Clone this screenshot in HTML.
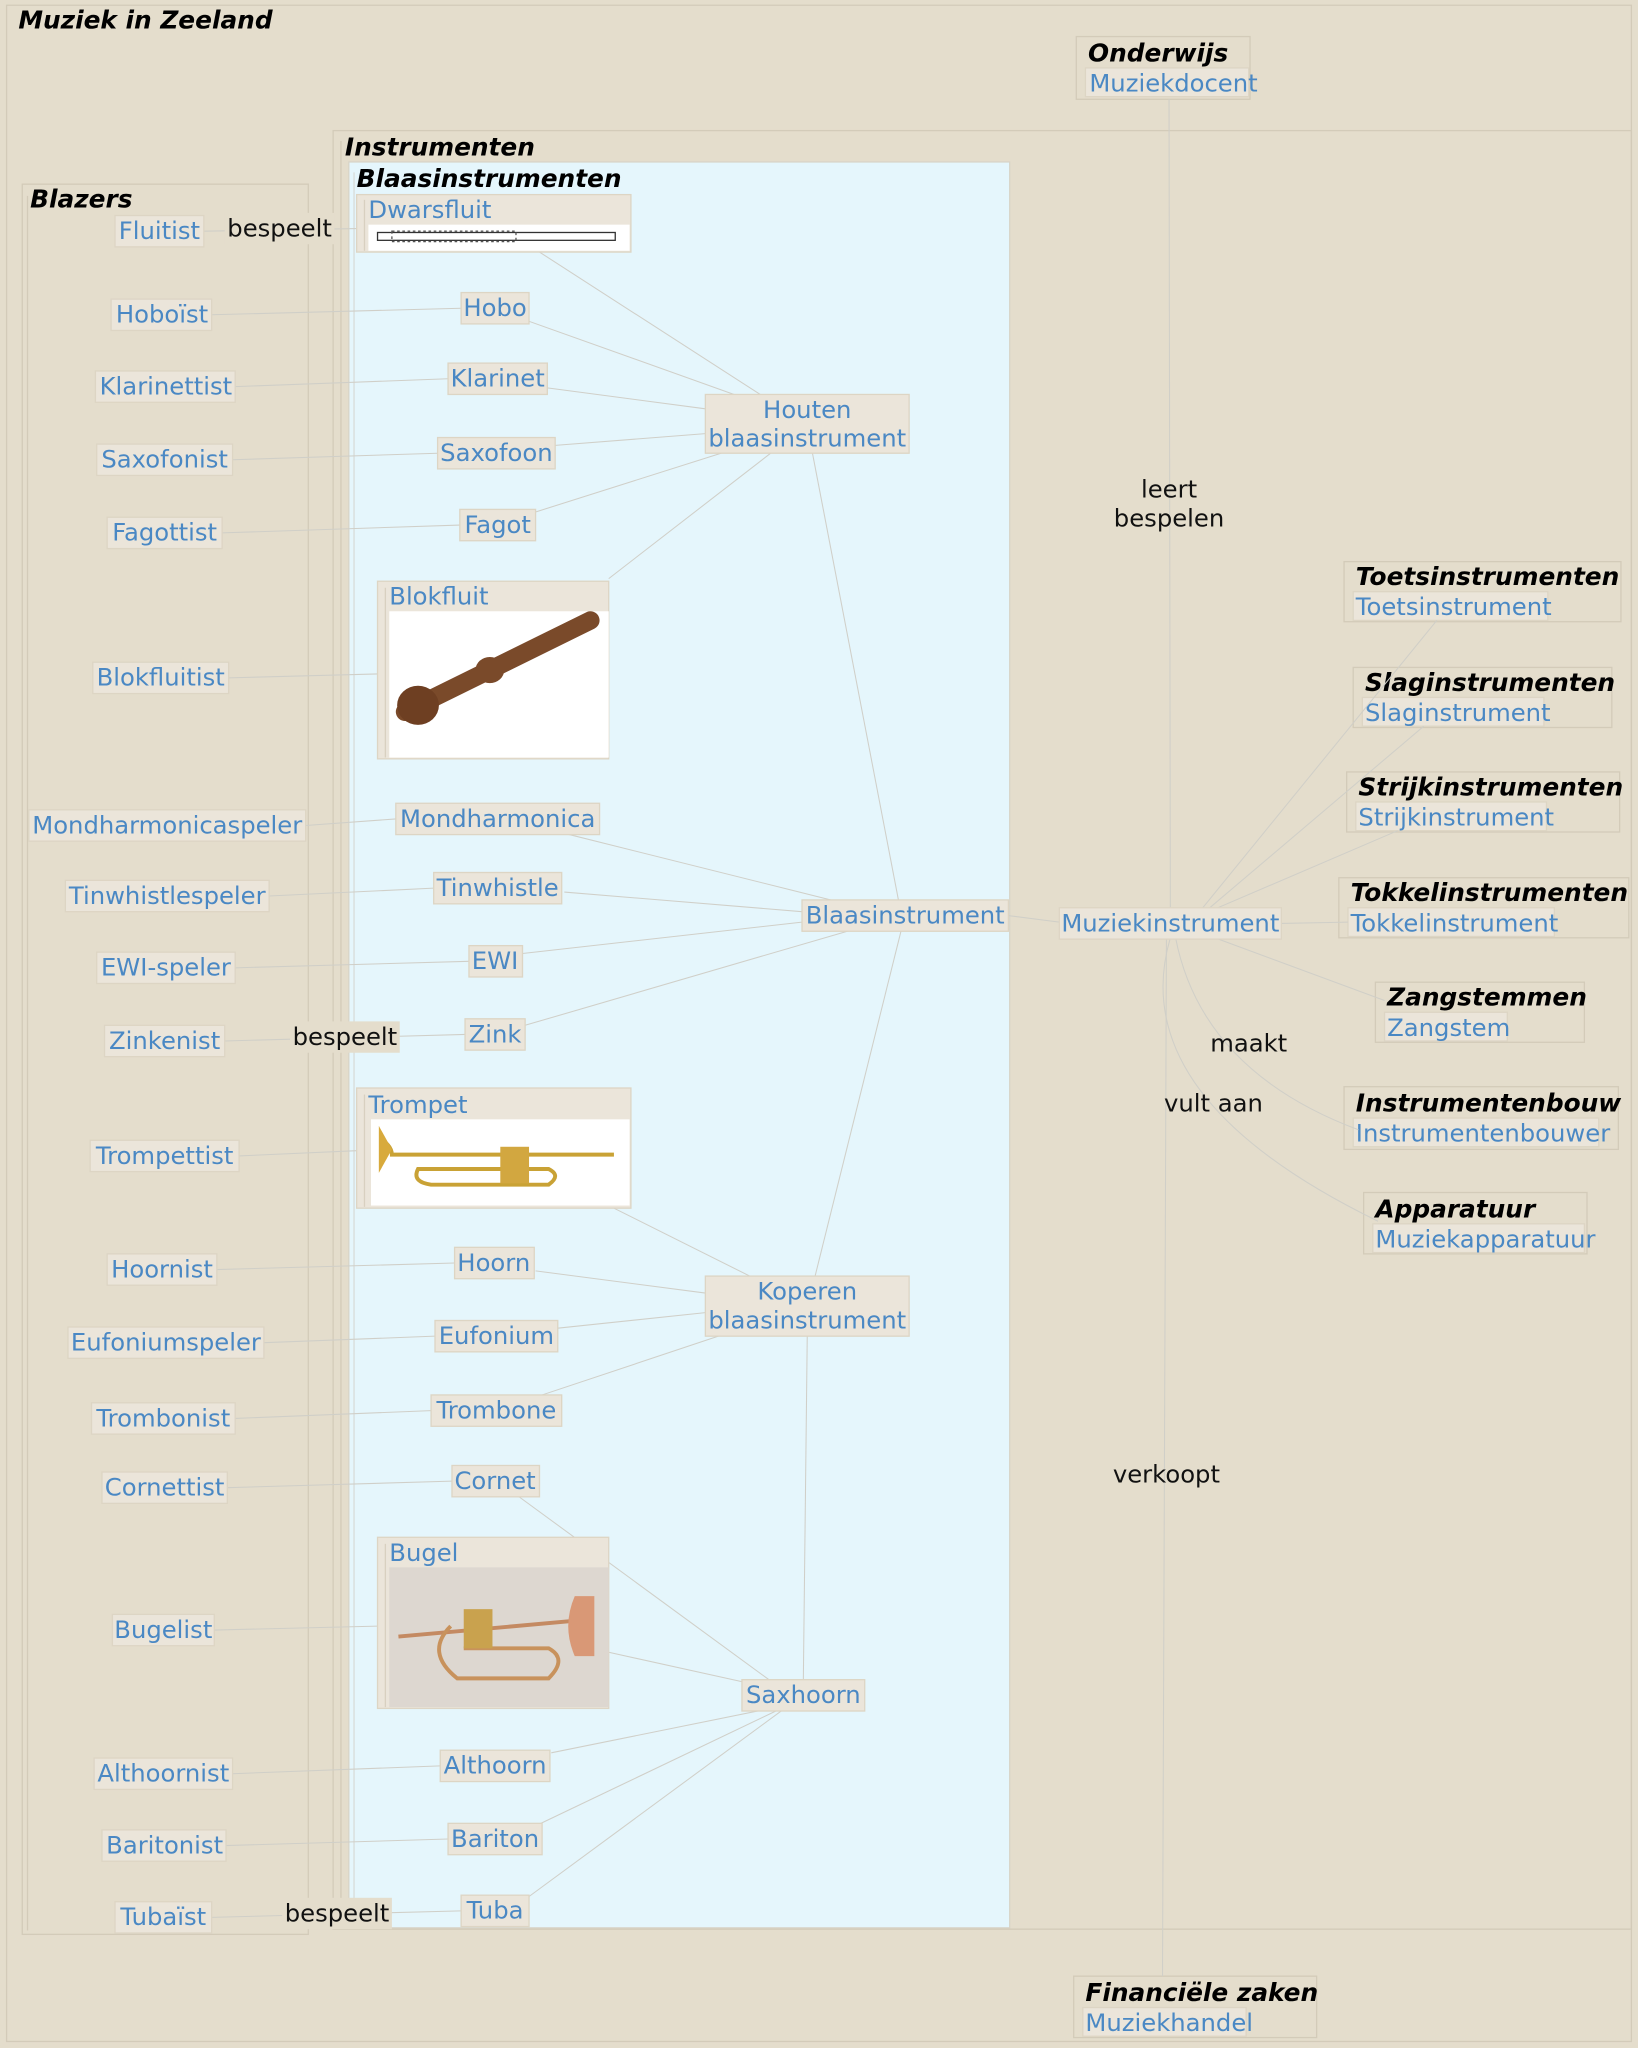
<!DOCTYPE html>
<html><head><meta charset="utf-8"><style>
html,body{margin:0;padding:0;background:#e4ddcc;}
svg{display:block}
.n{fill:#4a88c4;font-family:"DejaVu Sans","Liberation Sans",sans-serif;font-size:18.6px;text-anchor:middle}
.nl{fill:#4a88c4;font-family:"DejaVu Sans","Liberation Sans",sans-serif;font-size:18.6px}
.t{fill:#000;font-family:"DejaVu Sans","Liberation Sans",sans-serif;font-size:19px;font-weight:bold;font-style:italic}
.l{fill:#111;font-family:"DejaVu Sans","Liberation Sans",sans-serif;font-size:18.6px;text-anchor:middle}
.b{fill:#ebe5da;stroke:#ddd5c4;stroke-width:1}
.e{stroke:#d0cfc8;stroke-width:0.8;fill:none}
.g{fill:none;stroke:#d3cbb9;stroke-width:1}
</style></head><body>
<svg width="1638" height="2048" viewBox="0 0 1254 1568" xmlns="http://www.w3.org/2000/svg">
<rect x="0" y="0" width="1254" height="1568" fill="#e4ddcc"/>
<rect x="5" y="4" width="1244" height="1559" fill="#e4ddcc" stroke="#d3cbb9"/>
<text class="t" x="14" y="22">Muziek in Zeeland</text>

<rect x="824" y="28" width="133" height="48" class="g"/>
<text class="t" x="833" y="47">Onderwijs</text>
<rect x="831" y="52" width="125" height="22" class="b"/>
<text class="nl" x="834" y="70">Muziekdocent</text>

<rect x="17" y="141" width="219" height="1340" class="g"/>
<line x1="21" y1="150" x2="21" y2="1478" stroke="#d3cbb9"/>
<text class="t" x="23" y="159">Blazers</text>

<rect x="255" y="100" width="994" height="1377" class="g"/>
<line x1="261" y1="108" x2="261" y2="1475" stroke="#d3cbb9"/>
<text class="t" x="264" y="119">Instrumenten</text>

<rect x="267" y="124" width="506" height="1352" fill="#e5f6fc" stroke="#d8d4c8"/>
<line x1="271" y1="132" x2="271" y2="1474" stroke="#d8dcd8"/>
<text class="t" x="273" y="143">Blaasinstrumenten</text>

<g>
<rect x="1029" y="430" width="212" height="46" class="g"/><text class="t" x="1038" y="448">Toetsinstrumenten</text>
<rect x="1036" y="453" width="149" height="22" class="b"/><text class="nl" x="1038" y="471">Toetsinstrument</text>
<rect x="1036" y="511" width="198" height="46" class="g"/><text class="t" x="1045" y="529">Slaginstrumenten</text>
<rect x="1043" y="534" width="139" height="22" class="b"/><text class="nl" x="1045" y="552">Slaginstrument</text>
<rect x="1031" y="591" width="209" height="46" class="g"/><text class="t" x="1040" y="609">Strijkinstrumenten</text>
<rect x="1038" y="614" width="146" height="22" class="b"/><text class="nl" x="1040" y="632">Strijkinstrument</text>
<rect x="1025" y="672" width="222" height="46" class="g"/><text class="t" x="1034" y="690">Tokkelinstrumenten</text>
<rect x="1032" y="695" width="158" height="22" class="b"/><text class="nl" x="1034" y="713">Tokkelinstrument</text>
<rect x="1053" y="752" width="160" height="46" class="g"/><text class="t" x="1062" y="770">Zangstemmen</text>
<rect x="1060" y="775" width="94" height="22" class="b"/><text class="nl" x="1062" y="793">Zangstem</text>
<rect x="1029" y="832" width="210" height="48" class="g"/><text class="t" x="1038" y="851">Instrumentenbouw</text>
<rect x="1036" y="856" width="188" height="22" class="b"/><text class="nl" x="1038" y="874">Instrumentenbouwer</text>
<rect x="1044" y="913" width="171" height="47" class="g"/><text class="t" x="1053" y="932">Apparatuur</text>
<rect x="1051" y="937" width="162" height="22" class="b"/><text class="nl" x="1053" y="955">Muziekapparatuur</text>
<rect x="822" y="1513" width="186" height="47" class="g"/><text class="t" x="831" y="1532">Financiële zaken</text>
<rect x="829" y="1537" width="125" height="22" class="b"/><text class="nl" x="831" y="1555">Muziekhandel</text>
</g>

<g class="e">
<line x1="156" y1="177" x2="273" y2="175"/>
<line x1="162" y1="241" x2="353" y2="236"/>
<line x1="180" y1="296" x2="343" y2="290"/>
<line x1="178" y1="352" x2="335" y2="347"/>
<line x1="170" y1="408" x2="352" y2="402"/>
<line x1="175" y1="519" x2="289" y2="516"/>
<line x1="234" y1="632" x2="303" y2="627"/>
<line x1="206" y1="686" x2="332" y2="680"/>
<line x1="180" y1="741" x2="359" y2="736"/>
<line x1="172" y1="797" x2="356" y2="792"/>
<line x1="183" y1="885" x2="273" y2="881"/>
<line x1="166" y1="972" x2="348" y2="967"/>
<line x1="202" y1="1028" x2="333" y2="1023"/>
<line x1="180" y1="1086" x2="330" y2="1080"/>
<line x1="174" y1="1139" x2="346" y2="1134"/>
<line x1="164" y1="1248" x2="289" y2="1245"/>
<line x1="178" y1="1358" x2="337" y2="1352"/>
<line x1="173" y1="1413" x2="343" y2="1408"/>
<line x1="162" y1="1468" x2="353" y2="1463"/>
<line x1="413" y1="193" x2="582" y2="302"/>
<line x1="405" y1="246" x2="562" y2="302"/>
<line x1="419" y1="297" x2="540" y2="313"/>
<line x1="425" y1="341" x2="540" y2="332"/>
<line x1="410" y1="392" x2="552" y2="347"/>
<line x1="466" y1="443" x2="590" y2="347"/>
<line x1="622" y1="347" x2="688" y2="690"/>
<line x1="432" y1="638" x2="640" y2="690"/>
<line x1="432" y1="683" x2="614" y2="698"/>
<line x1="400" y1="730" x2="614" y2="706"/>
<line x1="402" y1="785" x2="652" y2="712"/>
<line x1="624" y1="977" x2="690" y2="712"/>
<line x1="470" y1="925" x2="574" y2="977"/>
<line x1="410" y1="973" x2="540" y2="990"/>
<line x1="426" y1="1017" x2="540" y2="1005"/>
<line x1="415" y1="1068" x2="550" y2="1023"/>
<line x1="396" y1="1145" x2="590" y2="1287"/>
<line x1="466" y1="1265" x2="570" y2="1288"/>
<line x1="422" y1="1342" x2="590" y2="1308"/>
<line x1="412" y1="1397" x2="594" y2="1310"/>
<line x1="405" y1="1452" x2="598" y2="1310"/>
<line x1="615" y1="1287" x2="618" y2="1023"/>
<line x1="772" y1="701" x2="811" y2="706"/>
<line x1="981" y1="707" x2="1032" y2="706"/>
<line x1="920" y1="696" x2="1100" y2="475"/>
<line x1="925" y1="696" x2="1090" y2="556"/>
<line x1="930" y1="696" x2="1070" y2="636"/>
<line x1="930" y1="718" x2="1060" y2="766"/>
<line x1="895" y1="76" x2="896" y2="696"/>
<line x1="893" y1="718" x2="890" y2="1513"/>
<path d="M900 718 Q920 820 1040 865"/>
<path d="M896 718 Q860 840 1055 935"/>
</g>

<rect x="172" y="163" width="84" height="24" fill="#e4ddcc"/>
<text class="l" x="214" y="181">bespeelt</text>
<rect x="222" y="782" width="84" height="24" fill="#e4ddcc"/>
<text class="l" x="264" y="800">bespeelt</text>
<rect x="216" y="1453" width="84" height="24" fill="#e4ddcc"/>
<text class="l" x="258" y="1471">bespeelt</text>
<text class="l" x="895" y="381">leert</text>
<text class="l" x="895" y="403">bespelen</text>
<text class="l" x="956" y="805">maakt</text>
<text class="l" x="929" y="851">vult aan</text>
<text class="l" x="893" y="1135">verkoopt</text>

<g>
<rect x="88" y="165" width="68" height="24" class="b"/><text class="n" x="122" y="183">Fluitist</text>
<rect x="85" y="229" width="77" height="24" class="b"/><text class="n" x="124" y="247">Hoboïst</text>
<rect x="73" y="284" width="107" height="24" class="b"/><text class="n" x="127" y="302">Klarinettist</text>
<rect x="74" y="340" width="104" height="24" class="b"/><text class="n" x="126" y="358">Saxofonist</text>
<rect x="82" y="396" width="88" height="24" class="b"/><text class="n" x="126" y="414">Fagottist</text>
<rect x="71" y="507" width="104" height="24" class="b"/><text class="n" x="123" y="525">Blokfluitist</text>
<rect x="22" y="620" width="212" height="24" class="b"/><text class="n" x="128" y="638">Mondharmonicaspeler</text>
<rect x="50" y="674" width="156" height="24" class="b"/><text class="n" x="128" y="692">Tinwhistlespeler</text>
<rect x="74" y="729" width="106" height="24" class="b"/><text class="n" x="127" y="747">EWI-speler</text>
<rect x="80" y="785" width="92" height="24" class="b"/><text class="n" x="126" y="803">Zinkenist</text>
<rect x="69" y="873" width="114" height="24" class="b"/><text class="n" x="126" y="891">Trompettist</text>
<rect x="82" y="960" width="84" height="24" class="b"/><text class="n" x="124" y="978">Hoornist</text>
<rect x="52" y="1016" width="150" height="24" class="b"/><text class="n" x="127" y="1034">Eufoniumspeler</text>
<rect x="70" y="1074" width="110" height="24" class="b"/><text class="n" x="125" y="1092">Trombonist</text>
<rect x="78" y="1127" width="96" height="24" class="b"/><text class="n" x="126" y="1145">Cornettist</text>
<rect x="86" y="1236" width="78" height="24" class="b"/><text class="n" x="125" y="1254">Bugelist</text>
<rect x="72" y="1346" width="106" height="24" class="b"/><text class="n" x="125" y="1364">Althoornist</text>
<rect x="78" y="1401" width="95" height="24" class="b"/><text class="n" x="126" y="1419">Baritonist</text>
<rect x="88" y="1456" width="74" height="24" class="b"/><text class="n" x="125" y="1474">Tubaïst</text>
</g>

<g>
<rect x="353" y="224" width="52" height="24" class="b"/><text class="n" x="379" y="242">Hobo</text>
<rect x="343" y="278" width="76" height="24" class="b"/><text class="n" x="381" y="296">Klarinet</text>
<rect x="335" y="335" width="90" height="24" class="b"/><text class="n" x="380" y="353">Saxofoon</text>
<rect x="352" y="390" width="58" height="24" class="b"/><text class="n" x="381" y="408">Fagot</text>
<rect x="303" y="615" width="156" height="24" class="b"/><text class="n" x="381" y="633">Mondharmonica</text>
<rect x="332" y="668" width="98" height="24" class="b"/><text class="n" x="381" y="686">Tinwhistle</text>
<rect x="359" y="724" width="41" height="24" class="b"/><text class="n" x="379" y="742">EWI</text>
<rect x="356" y="780" width="46" height="24" class="b"/><text class="n" x="379" y="798">Zink</text>
<rect x="348" y="955" width="61" height="24" class="b"/><text class="n" x="378" y="973">Hoorn</text>
<rect x="333" y="1011" width="94" height="24" class="b"/><text class="n" x="380" y="1029">Eufonium</text>
<rect x="330" y="1068" width="100" height="24" class="b"/><text class="n" x="380" y="1086">Trombone</text>
<rect x="346" y="1122" width="67" height="24" class="b"/><text class="n" x="379" y="1140">Cornet</text>
<rect x="337" y="1340" width="84" height="24" class="b"/><text class="n" x="379" y="1358">Althoorn</text>
<rect x="343" y="1396" width="72" height="24" class="b"/><text class="n" x="379" y="1414">Bariton</text>
<rect x="353" y="1451" width="52" height="24" class="b"/><text class="n" x="379" y="1469">Tuba</text>
<rect x="540" y="302" width="156" height="45" class="b"/><text class="n" x="618" y="320">Houten</text><text class="n" x="618" y="342">blaasinstrument</text>
<rect x="540" y="977" width="156" height="46" class="b"/><text class="n" x="618" y="995">Koperen</text><text class="n" x="618" y="1017">blaasinstrument</text>
<rect x="614" y="689" width="158" height="24" class="b"/><text class="n" x="693" y="707">Blaasinstrument</text>
<rect x="568" y="1286" width="94" height="24" class="b"/><text class="n" x="615" y="1304">Saxhoorn</text>
<rect x="811" y="695" width="170" height="24" class="b"/><text class="n" x="896" y="713">Muziekinstrument</text>
</g>

<g>
<rect x="273" y="149" width="210" height="44" class="b"/>
<line x1="279" y1="153" x2="279" y2="192" stroke="#d8d0c0"/>
<text class="nl" x="282" y="167">Dwarsfluit</text>
<rect x="282" y="172" width="200" height="20" fill="#fff"/>
<rect x="289" y="178" width="182" height="6" fill="#fff" stroke="#333" stroke-width="1"/>
<rect x="300" y="177" width="95" height="8" fill="none" stroke="#555" stroke-width="1" stroke-dasharray="2 2"/>

<rect x="289" y="445" width="177" height="136" class="b"/>
<line x1="295" y1="450" x2="295" y2="580" stroke="#d8d0c0"/>
<text class="nl" x="298" y="463">Blokfluit</text>
<rect x="298" y="468" width="168" height="112" fill="#fff"/>
<path d="M310 545 L452 475" stroke="#7a4a2a" stroke-width="14" stroke-linecap="round"/>
<ellipse cx="320" cy="540" rx="16" ry="15" fill="#6e3f22"/>
<ellipse cx="375" cy="513" rx="11" ry="10" fill="#7a4a2a"/>

<rect x="273" y="833" width="210" height="92" class="b"/>
<line x1="279" y1="838" x2="279" y2="924" stroke="#d8d0c0"/>
<text class="nl" x="282" y="852">Trompet</text>
<rect x="284" y="857" width="198" height="66" fill="#fff"/>
<path d="M292 872 Q300 878 300 884 L470 884" stroke="#c9a235" stroke-width="3" fill="none"/>
<path d="M290 862 L300 880 L290 898 Z" fill="#d8aa3c"/>
<path d="M320 895 Q315 905 330 907 L420 907 Q430 900 420 895 Z" fill="none" stroke="#c9a235" stroke-width="3"/>
<rect x="383" y="878" width="22" height="28" fill="#d2a740"/>

<rect x="289" y="1177" width="177" height="131" class="b"/>
<line x1="295" y1="1182" x2="295" y2="1307" stroke="#d8d0c0"/>
<text class="nl" x="298" y="1195">Bugel</text>
<rect x="298" y="1200" width="168" height="107" fill="#ddd7d0"/>
<path d="M305 1253 L450 1240" stroke="#c48a62" stroke-width="3"/>
<path d="M440 1222 L455 1222 L455 1268 L440 1268 Q430 1245 440 1222 Z" fill="#d99876"/>
<path d="M345 1245 Q325 1265 350 1285 L420 1285 Q435 1270 420 1262 L355 1262" fill="none" stroke="#c8925c" stroke-width="3"/>
<rect x="355" y="1232" width="22" height="30" fill="#c9a24e"/>
</g>
</svg>
</body></html>
